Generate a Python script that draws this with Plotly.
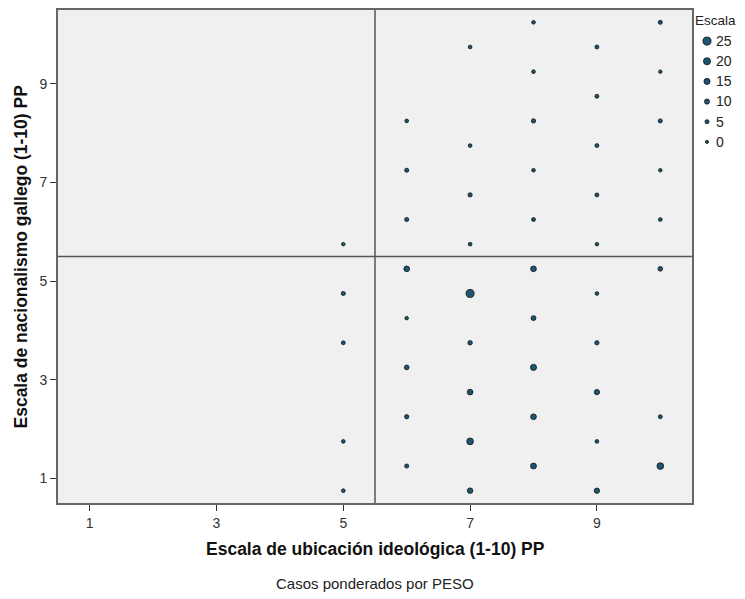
import plotly.graph_objects as go

# Data: (ideology x, nationalism y, weighted count)
ideologia = [8, 10, 7, 9, 8, 10, 9, 6, 8, 10, 7, 9, 6, 8, 10, 7, 9, 6, 8, 10, 7, 9, 5,
             6, 8, 10, 7, 9, 5, 6, 8, 7, 9, 5, 6, 8, 7, 9, 6, 8, 10, 7, 9, 5, 6, 8, 10, 7, 9, 5]
nacionalismo = [10.25, 10.25, 9.75, 9.75, 9.25, 9.25, 8.75, 8.25, 8.25, 8.25, 7.75, 7.75,
                7.25, 7.25, 7.25, 6.75, 6.75, 6.25, 6.25, 6.25, 5.75, 5.75, 5.75,
                5.25, 5.25, 5.25, 4.75, 4.75, 4.75, 4.25, 4.25, 3.75, 3.75, 3.75,
                3.25, 3.25, 2.75, 2.75, 2.25, 2.25, 2.25, 1.75, 1.75, 1.75,
                1.25, 1.25, 1.25, 0.75, 0.75, 0.75]
casos = [3, 5, 3, 4, 3, 2, 4, 3, 6, 5, 3, 4, 5, 3, 2, 6, 4, 5, 4, 3, 3, 2, 2,
         13, 13, 8, 25, 3, 5, 2, 9, 7, 6, 4, 8, 15, 13, 11, 6, 13, 4, 18, 3, 3,
         5, 14, 18, 12, 11, 3]

legend_values = [25, 20, 15, 10, 5, 0]
x_ticks = [1, 3, 5, 7, 9]
y_ticks = [1, 3, 5, 7, 9]
ref_x = 5.5
ref_y = 5.5

FILL = "#1c5670"
EDGE = "#111111"
FONT = "Liberation Sans"

# Page body has an 8px margin; figure is sized to fit the 745x599 window.
W, H = 737, 591
ML, MT, MB = 50, 2, 96
PW = W - ML          # plotting width (right margin 0, legend inside domain)
PH = H - MT - MB
PLOT_RIGHT = 634     # width of the main plot in px


def diam(v):
    return 3.1 + 0.2 * v


fig = go.Figure()
fig.add_trace(go.Scatter(
    x=ideologia, y=nacionalismo, mode="markers",
    marker=dict(size=[diam(v) for v in casos], color=FILL, opacity=1,
                line=dict(color=EDGE, width=0.8)),
    showlegend=False, hoverinfo="x+y+text", text=[str(c) for c in casos]))

# Size legend drawn on an auxiliary categorical axis
fig.add_trace(go.Scatter(
    x=[""] * len(legend_values), y=[str(v) for v in legend_values],
    xaxis="x2", yaxis="y2", mode="markers",
    marker=dict(size=[diam(v) for v in legend_values], color=FILL, opacity=1,
                line=dict(color=EDGE, width=0.8)),
    showlegend=False, hoverinfo="skip"))

# grey panel background of the main plot only
fig.add_shape(type="rect", xref="x domain", yref="y domain", x0=0, x1=1, y0=0, y1=1,
              fillcolor="#f0f0f0", line=dict(width=0), layer="below")

fig.add_vline(x=ref_x, line=dict(color="#555555", width=1.5))
fig.add_hline(y=ref_y, line=dict(color="#555555", width=1.5))

axis_common = dict(
    showgrid=False, zeroline=False, showline=True, linecolor="#666666", linewidth=2,
    mirror=True, ticks="outside", ticklen=6, tickwidth=1.2, tickcolor="#333333",
    tickfont=dict(family=FONT, size=14, color="#333333"),
)
fig.update_layout(
    xaxis=dict(range=[0.5, 10.5], tickvals=x_ticks, domain=[0, PLOT_RIGHT / PW],
               **axis_common),
    yaxis=dict(range=[0.5, 10.5], tickvals=y_ticks, **axis_common),
    xaxis2=dict(domain=[(707 - 58 - 8) / PW, (707 - 58 + 8) / PW], anchor="y2",
                showticklabels=False, showgrid=False, zeroline=False, showline=False,
                fixedrange=True),
    yaxis2=dict(domain=[1 - (152 - 10) / PH, 1 - (31 - 10) / PH], anchor="x2",
                side="right", type="category",
                categoryorder="array", categoryarray=[str(v) for v in sorted(legend_values)],
                range=[-0.5, len(legend_values) - 0.5],
                showgrid=False, zeroline=False, showline=False, ticks="",
                tickfont=dict(family=FONT, size=14, color="#222222"), fixedrange=True),
)

cx = (PLOT_RIGHT / 2) / PW
fig.add_annotation(text="<b>Escala de ubicación ideológica (1-10) PP</b>",
                   xref="paper", yref="paper", x=cx, y=-(549 - 503) / PH,
                   xanchor="center", yanchor="middle", showarrow=False,
                   font=dict(family=FONT, size=17.5, color="#111111"))
fig.add_annotation(text="<b>Escala de nacionalismo gallego (1-10) PP</b>",
                   xref="paper", yref="paper", x=(20 - 58) / PW, y=0.5, textangle=-90,
                   xanchor="center", yanchor="middle", showarrow=False,
                   font=dict(family=FONT, size=17.5, color="#111111"))
fig.add_annotation(text="Casos ponderados por PESO",
                   xref="paper", yref="paper", x=cx, y=-(583 - 503) / PH,
                   xanchor="center", yanchor="middle", showarrow=False,
                   font=dict(family=FONT, size=15, color="#222222"))
fig.add_annotation(text="Escala",
                   xref="paper", yref="paper", x=(694 - 58) / PW, y=1 - (21 - 10) / PH,
                   xanchor="left", yanchor="middle", showarrow=False, borderpad=0,
                   font=dict(family=FONT, size=13.5, color="#222222"))

fig.update_layout(
    width=W, height=H,
    margin=dict(l=ML, r=0, t=MT, b=MB, autoexpand=False),
    plot_bgcolor="white", paper_bgcolor="white",
    font=dict(family=FONT, size=12, color="#222222"),
    showlegend=False,
)

fig.write_html("out.html")
